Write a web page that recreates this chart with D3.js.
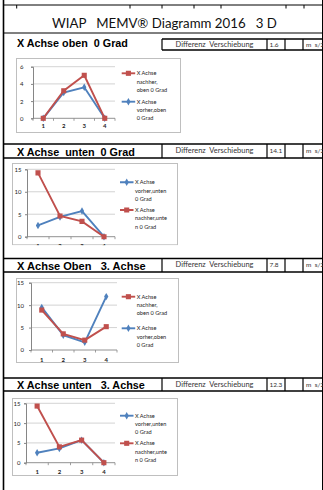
<!DOCTYPE html>
<html><head><meta charset="utf-8">
<script src="https://cdn.jsdelivr.net/npm/d3@7"></script>
<style>html,body{margin:0;padding:0;background:#fff;overflow:hidden}svg{display:block}text{white-space:pre}</style>
</head><body>
<script>
// ---- data ----
const pageTitle = "WIAP   MEMV® Diagramm 2016   3 D";
const sectionTitles = ["X Achse oben  0 Grad", "X Achse  unten  0 Grad", "X Achse Oben   3. Achse", "X Achse unten   3. Achse"];
const diffLabel = "Differenz  Verschiebung";
const diffValues = ["1.6", "14.1", "7.8", "12.3"];
const unitLabel = "m  s/2";
const categories = [1, 2, 3, 4];
const yTicks1 = [0, 2, 4, 6];
const yTicks2 = [0, 5, 10, 15];
const chart1Vorher = [0, 3.0, 3.6, 0];
const chart1Nachher = [0, 3.2, 5.0, 0];
const chart2Vorher = [2.5, 4.4, 5.7, 0];
const chart2Nachher = [14.2, 4.6, 3.4, 0];
const chart3Vorher = [9.5, 3.3, 1.7, 11.9];
const chart3Nachher = [8.9, 3.6, 2.2, 5.2];
const chart4Vorher = [2.5, 3.6, 5.7, 0];
const chart4Nachher = [14.3, 4.0, 5.7, 0];
const legendOben = { nachher: ["X Achse", "nachher,", "oben 0 Grad"], vorher: ["X Achse", "vorher,oben", "0 Grad"] };
const legendUnten = { vorher: ["X Achse", "vorher,unten", "0 Grad"], nachher: ["X Achse", "nachher,unte", "n 0 Grad"] };

const RED = "#C0504D", BLUE = "#4F81BD";
const W = 323, H = 490;
const svg = d3.select("body").append("svg").attr("width", W).attr("height", H);

function fit(sel, target) {
  const w = sel.node().getComputedTextLength();
  const fs = parseFloat(sel.attr("font-size"));
  if (w > 0) sel.attr("font-size", fs * target / w);
}
function line(x1, y1, x2, y2, sw, col) {
  svg.append("line").attr("x1", x1).attr("y1", y1).attr("x2", x2).attr("y2", y2)
    .attr("stroke", col || "#000").attr("stroke-width", sw || 1);
}

// ---- page frame ----
line(3.5, 0, 3.5, H, 1.6);
line(322.5, 0, 322.5, H, 1);
line(3, 5, W, 5, 1);
[16.7, 130, 162, 194, 221, 286, 304].forEach(x => line(x, 5, x, 8.5, 1));

const t = svg.append("text").attr("x", 164.5).attr("y", 28).attr("text-anchor", "middle")
  .attr("font-family", "Lato, 'Open Sans', sans-serif").attr("font-size", 13).attr("fill", "#111").text(pageTitle);
fit(t, 225);
line(3, 33, W, 33, 1);

// ---- section headers ----
const headers = [
  { top: 39, bottom: 50, left: 162, base: 47, tw: 111 },
  { top: 144, bottom: 158, left: 3, base: 155.5, tw: 118 },
  { top: 258.5, bottom: 272, left: 3, base: 270, tw: 129 },
  { top: 378, bottom: 391, left: 3, base: 389, tw: 128 }
];
headers.forEach((h, i) => {
  line(h.left, h.top, W, h.top, 1.6);
  line(h.left, h.bottom, W, h.bottom, 1.6);
  [162, 267, 285, 303].forEach(x => line(x, h.top, x, h.bottom, 1.2));
  const st = svg.append("text").attr("x", 17).attr("y", h.base)
    .attr("font-family", "'Liberation Sans', Arial, sans-serif").attr("font-weight", "bold")
    .attr("font-size", 11).attr("fill", "#000").text(sectionTitles[i]);
  fit(st, h.tw);
  const my = (h.top + h.bottom) / 2 + 2.2;
  const dt = svg.append("text").attr("x", 214.5).attr("y", my).attr("text-anchor", "middle")
    .attr("font-family", "Lato, sans-serif").attr("font-size", 6.5).attr("fill", "#333").text(diffLabel);
  fit(dt, 78);
  svg.append("text").attr("x", 269.5).attr("y", my).attr("font-family", "Lato, sans-serif")
    .attr("font-size", 6.5).attr("fill", "#333").text(diffValues[i]);
  svg.append("text").attr("x", 306).attr("y", my).attr("font-family", "Lato, sans-serif")
    .attr("font-size", 6.5).attr("fill", "#333").text(unitLabel);
});

// ---- charts ----
const charts = [
  { box: [16, 58, 181, 133], ax: [33, 115], y0: 118.3, yTop: 66.7, max: 6, ticks: yTicks1, lx: 23.5, xl: 127.5,
    vorher: chart1Vorher, nachher: chart1Nachher,
    legend: [{ s: "nachher", y: 73.3, lines: legendOben.nachher }, { s: "vorher", y: 101.7, lines: legendOben.vorher }], legX: 121.7 },
  { box: [12, 163, 178, 245.3], ax: [27, 115], y0: 236.7, yTop: 169.3, max: 15, ticks: yTicks2, lx: 21.5, xl: 247.5,
    vorher: chart2Vorher, nachher: chart2Nachher,
    legend: [{ s: "vorher", y: 182.3, lines: legendUnten.vorher }, { s: "nachher", y: 210, lines: legendUnten.nachher }], legX: 120 },
  { box: [16, 278, 179, 363], ax: [31, 117], y0: 350, yTop: 282.7, max: 15, ticks: yTicks2, lx: 24, xl: 361.5,
    vorher: chart3Vorher, nachher: chart3Nachher,
    legend: [{ s: "nachher", y: 296.7, lines: legendOben.nachher }, { s: "vorher", y: 328.3, lines: legendOben.vorher }], legX: 121.7 },
  { box: [12, 398, 178, 476], ax: [26, 115], y0: 462.7, yTop: 403.3, max: 15, ticks: yTicks2, lx: 20.5, xl: 474,
    vorher: chart4Vorher, nachher: chart4Nachher,
    legend: [{ s: "vorher", y: 415.7, lines: legendUnten.vorher }, { s: "nachher", y: 443.3, lines: legendUnten.nachher }], legX: 120 }
];

const sym = {
  nachher: d3.symbol().type(d3.symbolSquare).size(26),
  vorher: d3.symbol().type(d3.symbolDiamond).size(16)
};
const col = { nachher: RED, vorher: BLUE };

charts.forEach((c, ci) => {
  const [bx1, by1, bx2, by2] = c.box;
  const cid = "clip" + ci;
  svg.append("clipPath").attr("id", cid).append("rect")
    .attr("x", bx1).attr("y", by1).attr("width", bx2 - bx1).attr("height", by2 - by1);
  const g = svg.append("g").attr("clip-path", `url(#${cid})`);
  g.append("rect").attr("x", bx1 + 0.5).attr("y", by1 + 0.5).attr("width", bx2 - bx1 - 1).attr("height", by2 - by1 - 1)
    .attr("fill", "#fff").attr("stroke", "#BFBFBF").attr("stroke-width", 1);

  const x = d3.scaleBand().domain(categories).range(c.ax);
  const y = d3.scaleLinear().domain([0, c.max]).range([c.y0, c.yTop]);

  // gridlines
  g.selectAll(null).data(c.ticks.filter(d => d > 0)).join("line")
    .attr("x1", c.ax[0]).attr("x2", c.ax[1]).attr("y1", d => y(d)).attr("y2", d => y(d))
    .attr("stroke", "#C8C8C8").attr("stroke-width", 0.8);
  // y axis
  const ya = g.append("g").attr("transform", `translate(${c.ax[0]},0)`)
    .call(d3.axisLeft(y).tickValues(c.ticks).tickFormat(d3.format("d")).tickSize(2).tickPadding(2));
  ya.select(".domain").attr("stroke", "#868686");
  ya.selectAll(".tick line").attr("stroke", "#868686");
  ya.selectAll(".tick text").attr("font-family", "Lato, sans-serif").attr("font-size", 6).attr("fill", "#222")
    .attr("x", c.lx - c.ax[0]).attr("text-anchor", "end");
  // x axis
  g.append("line").attr("x1", c.ax[0]).attr("x2", c.ax[1]).attr("y1", c.y0).attr("y2", c.y0)
    .attr("stroke", "#868686").attr("stroke-width", 0.9);
  const bounds = categories.map(d => x(d)).concat([c.ax[1]]);
  g.selectAll(null).data(bounds).join("line")
    .attr("x1", d => d).attr("x2", d => d).attr("y1", c.y0).attr("y2", c.y0 + 2.5)
    .attr("stroke", "#868686").attr("stroke-width", 0.8);
  g.selectAll(null).data(categories).join("text")
    .attr("x", d => x(d) + x.bandwidth() / 2).attr("y", c.xl).attr("text-anchor", "middle")
    .attr("font-family", "Lato, sans-serif").attr("font-size", 6).attr("font-weight", "bold").attr("fill", "#222")
    .text(d => d);

  // series
  ["vorher", "nachher"].forEach(s => {
    const vals = c[s];
    const pts = categories.map((d, i) => [x(d) + x.bandwidth() / 2, y(vals[i])]);
    g.append("path").attr("d", d3.line()(pts)).attr("fill", "none").attr("stroke", col[s]).attr("stroke-width", 1.9);
    g.selectAll(null).data(pts).join("path").attr("d", sym[s]())
      .attr("transform", p => `translate(${p[0]},${p[1]})`).attr("fill", col[s]);
  });

  // legend
  c.legend.forEach(L => {
    g.append("line").attr("x1", c.legX).attr("x2", c.legX + 13.5).attr("y1", L.y).attr("y2", L.y)
      .attr("stroke", col[L.s]).attr("stroke-width", 1.9);
    g.append("path").attr("d", sym[L.s]()).attr("transform", `translate(${c.legX + 6.7},${L.y})`).attr("fill", col[L.s]);
    L.lines.forEach((tx, k) => {
      g.append("text").attr("x", c.legX + 15).attr("y", L.y + 2 + k * 8.35)
        .attr("font-family", "Lato, sans-serif").attr("font-size", 5.6).attr("fill", "#222").text(tx);
    });
  });
});
</script>
</body></html>
